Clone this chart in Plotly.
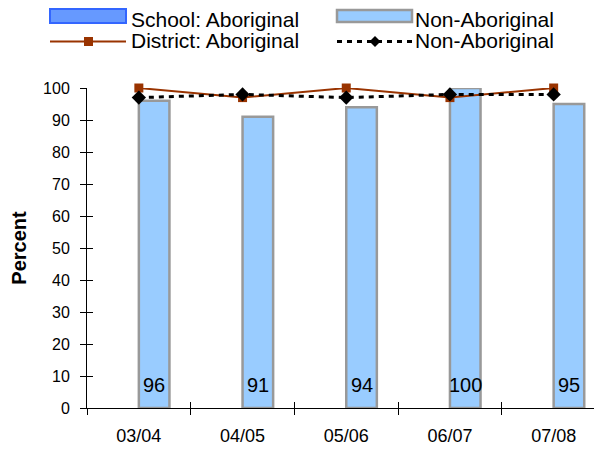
import plotly.graph_objects as go

categories = ["03/04", "04/05", "05/06", "06/07", "07/08"]
school_aboriginal = [None, None, None, None, None]
school_non_aboriginal = [96, 91, 94, 100, 95]
district_aboriginal = [100, 97, 100, 97, 100]
district_non_aboriginal = [97, 98, 97, 98, 98]
y_ticks = [0, 10, 20, 30, 40, 50, 60, 70, 80, 90, 100]

OFF = 8  # default page body margin
W, H = 602 - OFF, 449 - OFF
# plot area in page pixels
L, R, T, B = 87, 602, 88, 408
FONT = "Liberation Sans, Arial, sans-serif"

def px(x):
    return (x - L) / (R - L)

def py(y):
    return (B - y) / (B - T)

fig = go.Figure()
fig.add_trace(go.Bar(name="School: Aboriginal", x=categories, y=school_aboriginal,
                     marker=dict(color="#6699FF", line=dict(color="#3366FF", width=2)),
                     showlegend=False, cliponaxis=False))
fig.add_trace(go.Bar(name="Non-Aboriginal", x=categories, y=school_non_aboriginal,
                     marker=dict(color="#99CCFF", line=dict(color="#999999", width=2.5)),
                     showlegend=False, cliponaxis=False))
fig.add_trace(go.Scatter(name="District: Aboriginal", x=categories, y=district_aboriginal,
                         mode="lines+markers", line=dict(color="#993300", width=2),
                         marker=dict(symbol="square", size=9, color="#993300"),
                         showlegend=False, cliponaxis=False))
fig.add_trace(go.Scatter(name="District: Non-Aboriginal", x=categories, y=district_non_aboriginal,
                         mode="lines+markers", line=dict(color="black", width=3, dash="5px,5px"),
                         marker=dict(symbol="diamond", size=11, color="black"),
                         showlegend=False, cliponaxis=False))
# helper trace for crossing tick marks
fig.add_trace(go.Scatter(x=[None], y=[None], xaxis="x2", yaxis="y2", showlegend=False,
                         hoverinfo="skip"))

# bar value labels
for c, v in zip(categories, school_non_aboriginal):
    fig.add_annotation(x=c, y=0, xref="x", yref="y", text=str(v), showarrow=False,
                       xshift=15.5, yshift=23, yanchor="middle",
                       font=dict(family=FONT, size=20, color="black"))

# custom legend (page pixel coords)
shapes = []
shapes.append(dict(type="rect", xref="paper", yref="paper", x0=px(50), x1=px(126), y0=py(9), y1=py(23),
                   fillcolor="#6699FF", line=dict(color="#3366FF", width=2)))
shapes.append(dict(type="rect", xref="paper", yref="paper", x0=px(337), x1=px(412), y0=py(10), y1=py(22),
                   fillcolor="#99CCFF", line=dict(color="#999999", width=2.5)))
shapes.append(dict(type="line", xref="paper", yref="paper", x0=px(50), x1=px(126), y0=py(41.5), y1=py(41.5),
                   line=dict(color="#993300", width=2)))
shapes.append(dict(type="rect", xref="paper", yref="paper", x0=px(84), x1=px(93), y0=py(37), y1=py(46),
                   fillcolor="#993300", line=dict(color="#993300", width=0)))
shapes.append(dict(type="line", xref="paper", yref="paper", x0=px(337), x1=px(412), y0=py(41.5), y1=py(41.5),
                   line=dict(color="black", width=3, dash="5px,5px")))
cx, cy = 375, 41.5
shapes.append(dict(type="path", xref="paper", yref="paper",
                   path=f"M {px(cx-5.5)} {py(cy)} L {px(cx)} {py(cy-5.5)} L {px(cx+5.5)} {py(cy)} L {px(cx)} {py(cy+5.5)} Z",
                   fillcolor="black", line=dict(color="black", width=0)))
fig.update_layout(shapes=shapes)

legend_texts = [("School: Aboriginal", 130, 19.5), ("Non-Aboriginal", 414, 19.5),
                ("District: Aboriginal", 130, 40.8), ("Non-Aboriginal", 414, 40.8)]
for txt, x, y in legend_texts:
    fig.add_annotation(x=px(x), y=py(y), xref="paper", yref="paper", text=txt, showarrow=False,
                       xanchor="left", yanchor="middle", borderpad=0, height=23, valign="middle",
                       font=dict(family=FONT, size=21, color="black"))

x_range = [-0.5, -0.5 + (R - L) / 103.7]

fig.update_layout(
    width=W, height=H,
    margin=dict(l=L - OFF, r=(602 - OFF) - (R - OFF), t=T - OFF, b=(449 - OFF) - (B - OFF),
                pad=0, autoexpand=False),
    paper_bgcolor="white", plot_bgcolor="white",
    barmode="group", bargap=0.41, bargroupgap=0,
    font=dict(family=FONT, color="black"),
    showlegend=False,
    xaxis=dict(type="category", range=x_range, tickson="boundaries", ticks="outside", ticklen=6,
               tickcolor="black", tickwidth=1, showline=True, linecolor="black", linewidth=1,
               showgrid=False, zeroline=False, tickfont=dict(family=FONT, size=18),
               ticklabelstandoff=11, automargin=False),
    yaxis=dict(range=[0, 100], tickvals=y_ticks, ticks="outside", ticklen=6, tickcolor="black",
               tickwidth=1, showline=True, linecolor="black", linewidth=1, showgrid=False,
               zeroline=False, tickfont=dict(family=FONT, size=16), ticklabelstandoff=7,
               automargin=False,
               title=dict(text="<b>Percent</b>", font=dict(family=FONT, size=20), standoff=19)),
    xaxis2=dict(overlaying="x", anchor="y", range=x_range, tickvals=[-0.5, 0.5, 1.5, 2.5, 3.5],
                ticks="inside", ticklen=6, tickcolor="black", showticklabels=False, showline=False,
                showgrid=False, zeroline=False, automargin=False),
    yaxis2=dict(overlaying="y", anchor="x", range=[0, 100], tickvals=y_ticks, ticks="inside",
                ticklen=6, tickcolor="black", showticklabels=False, showline=False, showgrid=False,
                zeroline=False, automargin=False),
)

fig.write_html("out.html")
